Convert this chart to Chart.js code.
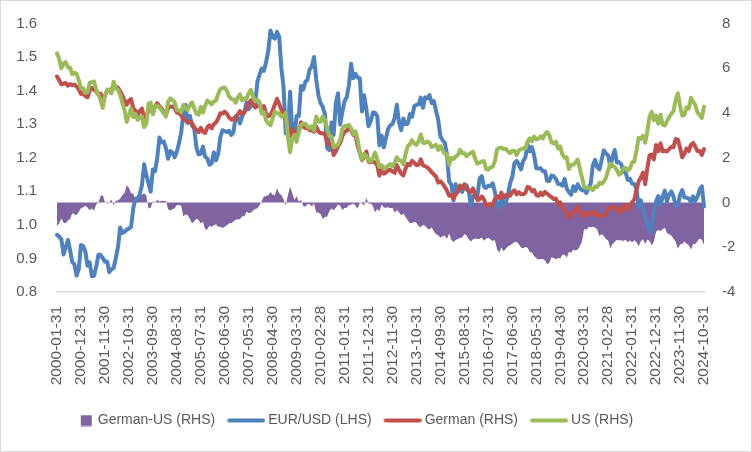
<!DOCTYPE html>
<html>
<head>
<meta charset="utf-8">
<script src="https://cdn.jsdelivr.net/npm/chart.js@4.4.1/dist/chart.umd.min.js"></script>
<style>
  html, body { margin: 0; padding: 0; background: #ffffff; }
  #wrap { position: absolute; left: 0; top: 0; width: 750px; height: 450px; border: 1px solid #D9D9D9; background: #fff; }
  canvas { display: block; }
</style>
</head>
<body>
<div id="wrap"><canvas id="c" width="750" height="450"></canvas></div>
<script>
// ---------------- data (monthly, 2000-01 .. 2024-10) ----------------
const startYear = 2000;
const monthCount = 298;
const labelStep = 11;

const eurusd = [
  0.970,0.965,0.957,0.912,0.933,0.955,0.925,0.889,0.882,0.849,0.869,0.940,
  0.937,0.921,0.878,0.888,0.847,0.848,0.875,0.911,0.911,0.901,0.890,0.891,
  0.859,0.868,0.872,0.901,0.934,0.992,0.976,0.979,0.986,0.989,0.994,1.049,
  1.077,1.079,1.091,1.118,1.181,1.149,1.124,1.099,1.165,1.160,1.198,1.260,
  1.246,1.248,1.229,1.197,1.220,1.216,1.202,1.218,1.243,1.275,1.329,1.357,
  1.304,1.325,1.296,1.287,1.230,1.210,1.212,1.233,1.203,1.198,1.179,1.184,
  1.216,1.192,1.212,1.262,1.282,1.279,1.277,1.280,1.268,1.276,1.324,1.320,
  1.302,1.324,1.336,1.365,1.345,1.354,1.368,1.363,1.427,1.448,1.466,1.459,
  1.485,1.519,1.579,1.560,1.555,1.575,1.560,1.467,1.410,1.273,1.269,1.397,
  1.280,1.267,1.325,1.324,1.414,1.403,1.426,1.433,1.464,1.472,1.500,1.433,
  1.386,1.363,1.351,1.330,1.229,1.223,1.305,1.268,1.362,1.392,1.299,1.337,
  1.369,1.380,1.416,1.480,1.437,1.450,1.439,1.437,1.338,1.386,1.345,1.294,
  1.308,1.335,1.334,1.324,1.237,1.266,1.231,1.258,1.286,1.297,1.300,1.319,
  1.358,1.306,1.282,1.317,1.300,1.301,1.330,1.322,1.353,1.358,1.359,1.379,
  1.349,1.380,1.377,1.387,1.363,1.369,1.339,1.313,1.263,1.252,1.245,1.210,
  1.129,1.120,1.073,1.122,1.099,1.114,1.098,1.121,1.118,1.100,1.057,1.086,
  1.083,1.087,1.138,1.145,1.113,1.110,1.117,1.116,1.124,1.098,1.059,1.052,
  1.080,1.059,1.065,1.090,1.124,1.143,1.184,1.191,1.181,1.165,1.190,1.201,
  1.241,1.219,1.232,1.208,1.169,1.168,1.169,1.160,1.160,1.131,1.131,1.147,
  1.145,1.137,1.122,1.122,1.117,1.137,1.108,1.098,1.090,1.115,1.101,1.121,
  1.109,1.103,1.103,1.095,1.110,1.123,1.178,1.194,1.172,1.165,1.193,1.222,
  1.213,1.207,1.173,1.202,1.223,1.186,1.187,1.181,1.158,1.156,1.134,1.137,
  1.123,1.122,1.107,1.054,1.073,1.048,1.022,1.005,0.980,0.988,1.041,1.070,
  1.086,1.058,1.084,1.102,1.069,1.091,1.100,1.084,1.057,1.058,1.089,1.104,
  1.082,1.081,1.079,1.067,1.085,1.071,1.083,1.105,1.115,1.055
];

const german = [
  5.63,5.47,5.28,5.31,5.34,5.22,5.29,5.25,5.27,5.18,5.06,4.85,
  4.90,4.76,4.70,5.00,5.12,5.04,4.97,4.82,4.87,4.56,4.77,4.99,
  5.04,5.01,5.28,5.17,5.13,4.98,4.78,4.56,4.37,4.55,4.62,4.22,
  4.11,3.89,4.09,4.20,3.78,3.82,4.14,4.22,4.00,4.29,4.44,4.30,
  4.21,4.04,3.91,4.21,4.29,4.28,4.22,4.01,4.01,3.89,3.74,3.68,
  3.57,3.62,3.54,3.36,3.25,3.14,3.34,3.16,3.11,3.36,3.45,3.31,
  3.50,3.58,3.75,3.99,3.98,4.06,3.96,3.80,3.70,3.76,3.69,3.95,
  4.08,3.95,4.02,4.22,4.42,4.57,4.38,4.24,4.33,4.36,4.04,4.31,
  3.95,3.85,3.92,4.12,4.38,4.63,4.40,4.16,3.99,3.88,3.27,2.95,
  3.29,3.13,2.99,3.19,3.59,3.39,3.33,3.33,3.23,3.23,3.16,3.39,
  3.18,3.10,3.09,3.05,2.67,2.58,2.67,2.12,2.28,2.51,2.67,2.96,
  3.17,3.20,3.35,3.22,3.02,3.03,2.54,2.22,1.89,2.03,2.28,1.83,
  1.79,1.82,1.79,1.66,1.20,1.58,1.29,1.33,1.44,1.46,1.39,1.32,
  1.68,1.45,1.29,1.21,1.51,1.73,1.67,1.86,1.78,1.67,1.69,1.93,
  1.66,1.62,1.57,1.47,1.36,1.25,1.16,0.89,0.95,0.84,0.70,0.54,
  0.30,0.33,0.18,0.37,0.49,0.76,0.64,0.80,0.59,0.52,0.47,0.63,
  0.33,0.11,0.15,0.27,0.14,-0.13,-0.12,-0.07,-0.12,0.16,0.28,0.21,
  0.44,0.21,0.33,0.32,0.30,0.47,0.54,0.36,0.46,0.37,0.37,0.43,
  0.70,0.66,0.50,0.56,0.34,0.30,0.44,0.33,0.47,0.39,0.31,0.24,
  0.15,0.18,-0.07,0.01,-0.20,-0.33,-0.44,-0.70,-0.57,-0.41,-0.36,-0.19,
  -0.43,-0.61,-0.47,-0.59,-0.45,-0.45,-0.53,-0.40,-0.52,-0.63,-0.57,-0.57,
  -0.52,-0.26,-0.29,-0.20,-0.19,-0.21,-0.46,-0.38,-0.20,-0.11,-0.35,-0.18,
  0.01,0.14,0.55,0.94,1.12,1.34,0.82,1.54,2.11,2.14,1.93,2.57,
  2.29,2.65,2.29,2.31,2.28,2.39,2.49,2.47,2.84,2.81,2.45,2.02,
  2.17,2.41,2.30,2.58,2.66,2.50,2.30,2.30,2.12,2.39
];

const us = [
  6.67,6.41,6.00,6.21,6.27,6.03,6.03,5.73,5.80,5.75,5.47,5.11,
  5.11,4.90,4.92,5.35,5.38,5.41,5.05,4.83,4.59,4.23,4.75,5.05,
  5.03,4.88,5.40,5.09,5.04,4.80,4.46,4.14,3.60,3.89,4.21,3.82,
  3.96,3.69,3.80,3.84,3.37,3.51,4.41,4.46,3.94,4.29,4.33,4.25,
  4.13,3.97,3.84,4.51,4.65,4.58,4.48,4.12,4.12,4.03,4.35,4.22,
  4.13,4.36,4.48,4.20,3.98,3.92,4.28,4.02,4.32,4.55,4.49,4.39,
  4.52,4.55,4.85,5.07,5.12,5.14,4.98,4.73,4.63,4.61,4.46,4.70,
  4.83,4.56,4.65,4.63,4.89,5.03,4.74,4.53,4.59,4.48,3.97,4.03,
  3.67,3.53,3.45,3.77,4.06,3.99,3.99,3.83,3.85,4.01,2.93,2.25,
  2.87,3.02,2.71,3.16,3.47,3.53,3.52,3.40,3.31,3.41,3.21,3.84,
  3.63,3.61,3.84,3.69,3.31,2.97,2.94,2.47,2.51,2.60,2.81,3.30,
  3.42,3.43,3.47,3.32,3.06,3.18,2.82,2.23,1.92,2.17,2.08,1.89,
  1.83,1.98,2.23,1.95,1.59,1.67,1.51,1.57,1.65,1.72,1.62,1.78,
  2.02,1.89,1.87,1.70,2.16,2.52,2.60,2.78,2.64,2.57,2.75,3.04,
  2.67,2.66,2.73,2.67,2.48,2.53,2.58,2.35,2.52,2.35,2.18,2.17,
  1.68,2.00,1.94,2.05,2.12,2.35,2.20,2.21,2.06,2.16,2.21,2.27,
  1.94,1.74,1.78,1.83,1.85,1.49,1.46,1.58,1.60,1.84,2.37,2.45,
  2.45,2.39,2.40,2.29,2.21,2.31,2.30,2.12,2.33,2.38,2.42,2.41,
  2.72,2.87,2.74,2.95,2.83,2.85,2.96,2.86,3.05,3.15,3.01,2.69,
  2.63,2.72,2.41,2.51,2.14,2.00,2.02,1.50,1.68,1.69,1.78,1.92,
  1.51,1.13,0.70,0.64,0.65,0.66,0.55,0.72,0.69,0.88,0.84,0.93,
  1.11,1.44,1.74,1.65,1.58,1.45,1.24,1.31,1.52,1.55,1.43,1.52,
  1.79,1.83,2.32,2.89,2.85,2.98,2.67,3.19,3.83,4.05,3.68,3.88,
  3.52,3.92,3.48,3.44,3.64,3.81,3.97,4.09,4.59,4.88,4.33,3.88,
  3.91,4.25,4.20,4.68,4.51,4.36,4.03,3.91,3.78,4.28
];

const spread = [
  -1.04,-0.94,-0.72,-0.90,-0.93,-0.81,-0.74,-0.48,-0.53,-0.57,-0.41,-0.26,
  -0.21,-0.14,-0.22,-0.35,-0.26,-0.37,-0.08,-0.01,0.28,0.33,0.02,-0.06,
  0.01,0.13,-0.12,0.08,0.09,0.18,0.32,0.42,0.77,0.66,0.41,0.40,
  0.15,0.20,0.29,0.36,0.41,0.31,-0.27,-0.24,0.06,0.00,0.11,0.05,
  0.08,0.07,0.07,-0.30,-0.36,-0.30,-0.26,-0.11,-0.11,-0.14,-0.61,-0.54,
  -0.56,-0.74,-0.94,-0.84,-0.73,-0.78,-0.94,-0.86,-1.21,-1.19,-1.04,-1.08,
  -1.02,-0.97,-1.10,-1.08,-1.14,-1.08,-1.02,-0.93,-0.93,-0.85,-0.77,-0.75,
  -0.75,-0.61,-0.63,-0.41,-0.47,-0.46,-0.36,-0.29,-0.26,-0.12,0.07,0.28,
  0.28,0.32,0.47,0.35,0.32,0.64,0.41,0.33,0.14,-0.13,0.34,0.70,
  0.42,0.11,0.28,0.03,0.12,-0.14,-0.19,-0.07,-0.08,-0.18,-0.05,-0.45,
  -0.45,-0.51,-0.75,-0.64,-0.64,-0.39,-0.27,-0.35,-0.23,-0.09,-0.14,-0.34,
  -0.25,-0.23,-0.12,-0.10,-0.04,-0.15,-0.28,-0.01,-0.03,-0.14,0.20,-0.06,
  -0.04,-0.16,-0.44,-0.29,-0.39,-0.09,-0.22,-0.24,-0.21,-0.26,-0.23,-0.46,
  -0.34,-0.44,-0.58,-0.49,-0.65,-0.79,-0.93,-0.92,-0.86,-0.90,-1.06,-1.11,
  -1.01,-1.04,-1.16,-1.20,-1.12,-1.28,-1.42,-1.46,-1.57,-1.51,-1.48,-1.63,
  -1.38,-1.67,-1.76,-1.68,-1.63,-1.59,-1.56,-1.41,-1.47,-1.64,-1.74,-1.64,
  -1.61,-1.63,-1.63,-1.56,-1.71,-1.62,-1.58,-1.65,-1.72,-1.68,-2.09,-2.24,
  -2.01,-2.18,-2.07,-1.97,-1.91,-1.84,-1.76,-1.76,-1.87,-2.01,-2.05,-1.98,
  -2.02,-2.21,-2.24,-2.39,-2.49,-2.55,-2.52,-2.53,-2.58,-2.76,-2.70,-2.45,
  -2.48,-2.54,-2.48,-2.50,-2.34,-2.33,-2.46,-2.20,-2.25,-2.10,-2.14,-2.11,
  -1.94,-1.74,-1.17,-1.23,-1.10,-1.11,-1.08,-1.12,-1.21,-1.51,-1.41,-1.50,
  -1.63,-1.70,-2.03,-1.85,-1.77,-1.66,-1.70,-1.69,-1.72,-1.66,-1.78,-1.70,
  -1.78,-1.69,-1.77,-1.95,-1.73,-1.64,-1.85,-1.65,-1.72,-1.91,-1.75,-1.31,
  -1.23,-1.27,-1.19,-1.13,-1.36,-1.42,-1.48,-1.62,-1.75,-2.07,-1.88,-1.86,
  -1.74,-1.84,-1.90,-2.10,-1.85,-1.86,-1.73,-1.61,-1.66,-1.89
];

const seriesNames = ['German-US (RHS)', 'EUR/USD (LHS)', 'German (RHS)', 'US (RHS)'];
const seriesColors = ['#8064A2', '#4F81BD', '#C0504D', '#9BBB59'];
const leftTicks = { min: 0.8, max: 1.6, step: 0.1 };
const rightTicks = { min: -4, max: 8, step: 2 };

// month-end category labels
const monthLabels = [];
for (let i = 0; i < monthCount; i++) {
  const y = startYear + Math.floor(i / 12), m = i % 12;
  const d = new Date(Date.UTC(y, m + 1, 0)).getUTCDate();
  monthLabels.push(y + '-' + String(m + 1).padStart(2, '0') + '-' + String(d).padStart(2, '0'));
}

// ---------------- legend markers ----------------
function lineMarker(color) {
  const c = document.createElement('canvas');
  c.width = 46; c.height = 6;
  const g = c.getContext('2d');
  g.strokeStyle = color; g.lineWidth = 4; g.lineCap = 'round';
  g.beginPath(); g.moveTo(10, 3); g.lineTo(44, 3); g.stroke();
  return c;
}
function squareMarker(color) {
  const c = document.createElement('canvas');
  c.width = 46; c.height = 12;
  const g = c.getContext('2d');
  g.fillStyle = color; g.fillRect(32, 0.5, 11, 11);
  return c;
}
const markers = [squareMarker(seriesColors[0]), lineMarker(seriesColors[1]), lineMarker(seriesColors[2]), lineMarker(seriesColors[3])];

const FONT = "'Liberation Sans', Arial, sans-serif";
const TXT = '#595959';

const lineBase = { type: 'line', pointRadius: 0, pointHoverRadius: 0, borderWidth: 4, tension: 0, fill: false,
  borderJoinStyle: 'round', borderCapStyle: 'round' };

// shift the legend so it is centred like the original (left of canvas centre)
const legendShift = {
  id: 'legendShift',
  afterLayout(chart) {
    const l = chart.legend;
    if (l) { l.right -= 66; l.width -= 66; }
  }
};

function fixVertical(width) {
  return (s) => { s.width = width; s.paddingTop = 0; s.paddingBottom = 0; };
}

new Chart(document.getElementById('c'), {
  type: 'line',
  data: {
    labels: monthLabels,
    datasets: [
      { type: 'line', label: seriesNames[0], data: spread, yAxisID: 'yR', backgroundColor: seriesColors[0],
        borderColor: seriesColors[0], borderWidth: 0, pointRadius: 0, tension: 0, fill: 'origin', order: 4 },
      Object.assign({}, lineBase, { label: seriesNames[1], data: eurusd, yAxisID: 'yL', borderColor: seriesColors[1], backgroundColor: seriesColors[1], order: 3 }),
      Object.assign({}, lineBase, { label: seriesNames[2], data: german, yAxisID: 'yR', borderColor: seriesColors[2], backgroundColor: seriesColors[2], order: 2 }),
      Object.assign({}, lineBase, { label: seriesNames[3], data: us, yAxisID: 'yR', borderColor: seriesColors[3], backgroundColor: seriesColors[3], order: 1 })
    ]
  },
  plugins: [legendShift],
  options: {
    responsive: false,
    animation: false,
    devicePixelRatio: 1,
    layout: { padding: { top: 22.5, left: 0, right: 0, bottom: 13.5 } },
    plugins: {
      tooltip: { enabled: false },
      legend: {
        position: 'bottom',
        labels: {
          usePointStyle: true,
          pointStyleWidth: 38,
          padding: 8,
          color: TXT,
          font: { family: FONT, size: 14 },
          generateLabels: (chart) => chart.data.datasets.map((ds, i) => ({
            text: ds.label, pointStyle: markers[i], fillStyle: seriesColors[i], strokeStyle: seriesColors[i],
            lineWidth: 0, hidden: false, datasetIndex: i, fontColor: TXT
          }))
        }
      }
    },
    scales: {
      x: {
        type: 'category',
        offset: false,
        grid: { display: false, drawTicks: false },
        border: { display: true, color: '#D9D9D9', width: 1.5 },
        ticks: {
          autoSkip: false, minRotation: 90, maxRotation: 90, padding: 14,
          color: TXT, font: { family: FONT, size: 15.5 },
          callback: function (v, i) { return i % labelStep === 0 ? monthLabels[i] : null; }
        },
        afterFit: (s) => { s.height = 113.5; }
      },
      yL: {
        position: 'left',
        min: leftTicks.min, max: leftTicks.max,
        grid: { display: false, drawTicks: false },
        border: { display: false },
        ticks: { stepSize: leftTicks.step, padding: 20, color: TXT, font: { family: FONT, size: 15 },
          callback: (v) => Number(v).toFixed(1) },
        afterFit: fixVertical(56)
      },
      yR: {
        position: 'right',
        min: rightTicks.min, max: rightTicks.max,
        grid: { display: false, drawTicks: false },
        border: { display: false },
        ticks: { stepSize: rightTicks.step, padding: 18, color: TXT, font: { family: FONT, size: 15 } },
        afterFit: fixVertical(47)
      }
    }
  }
});
</script>
</body>
</html>
